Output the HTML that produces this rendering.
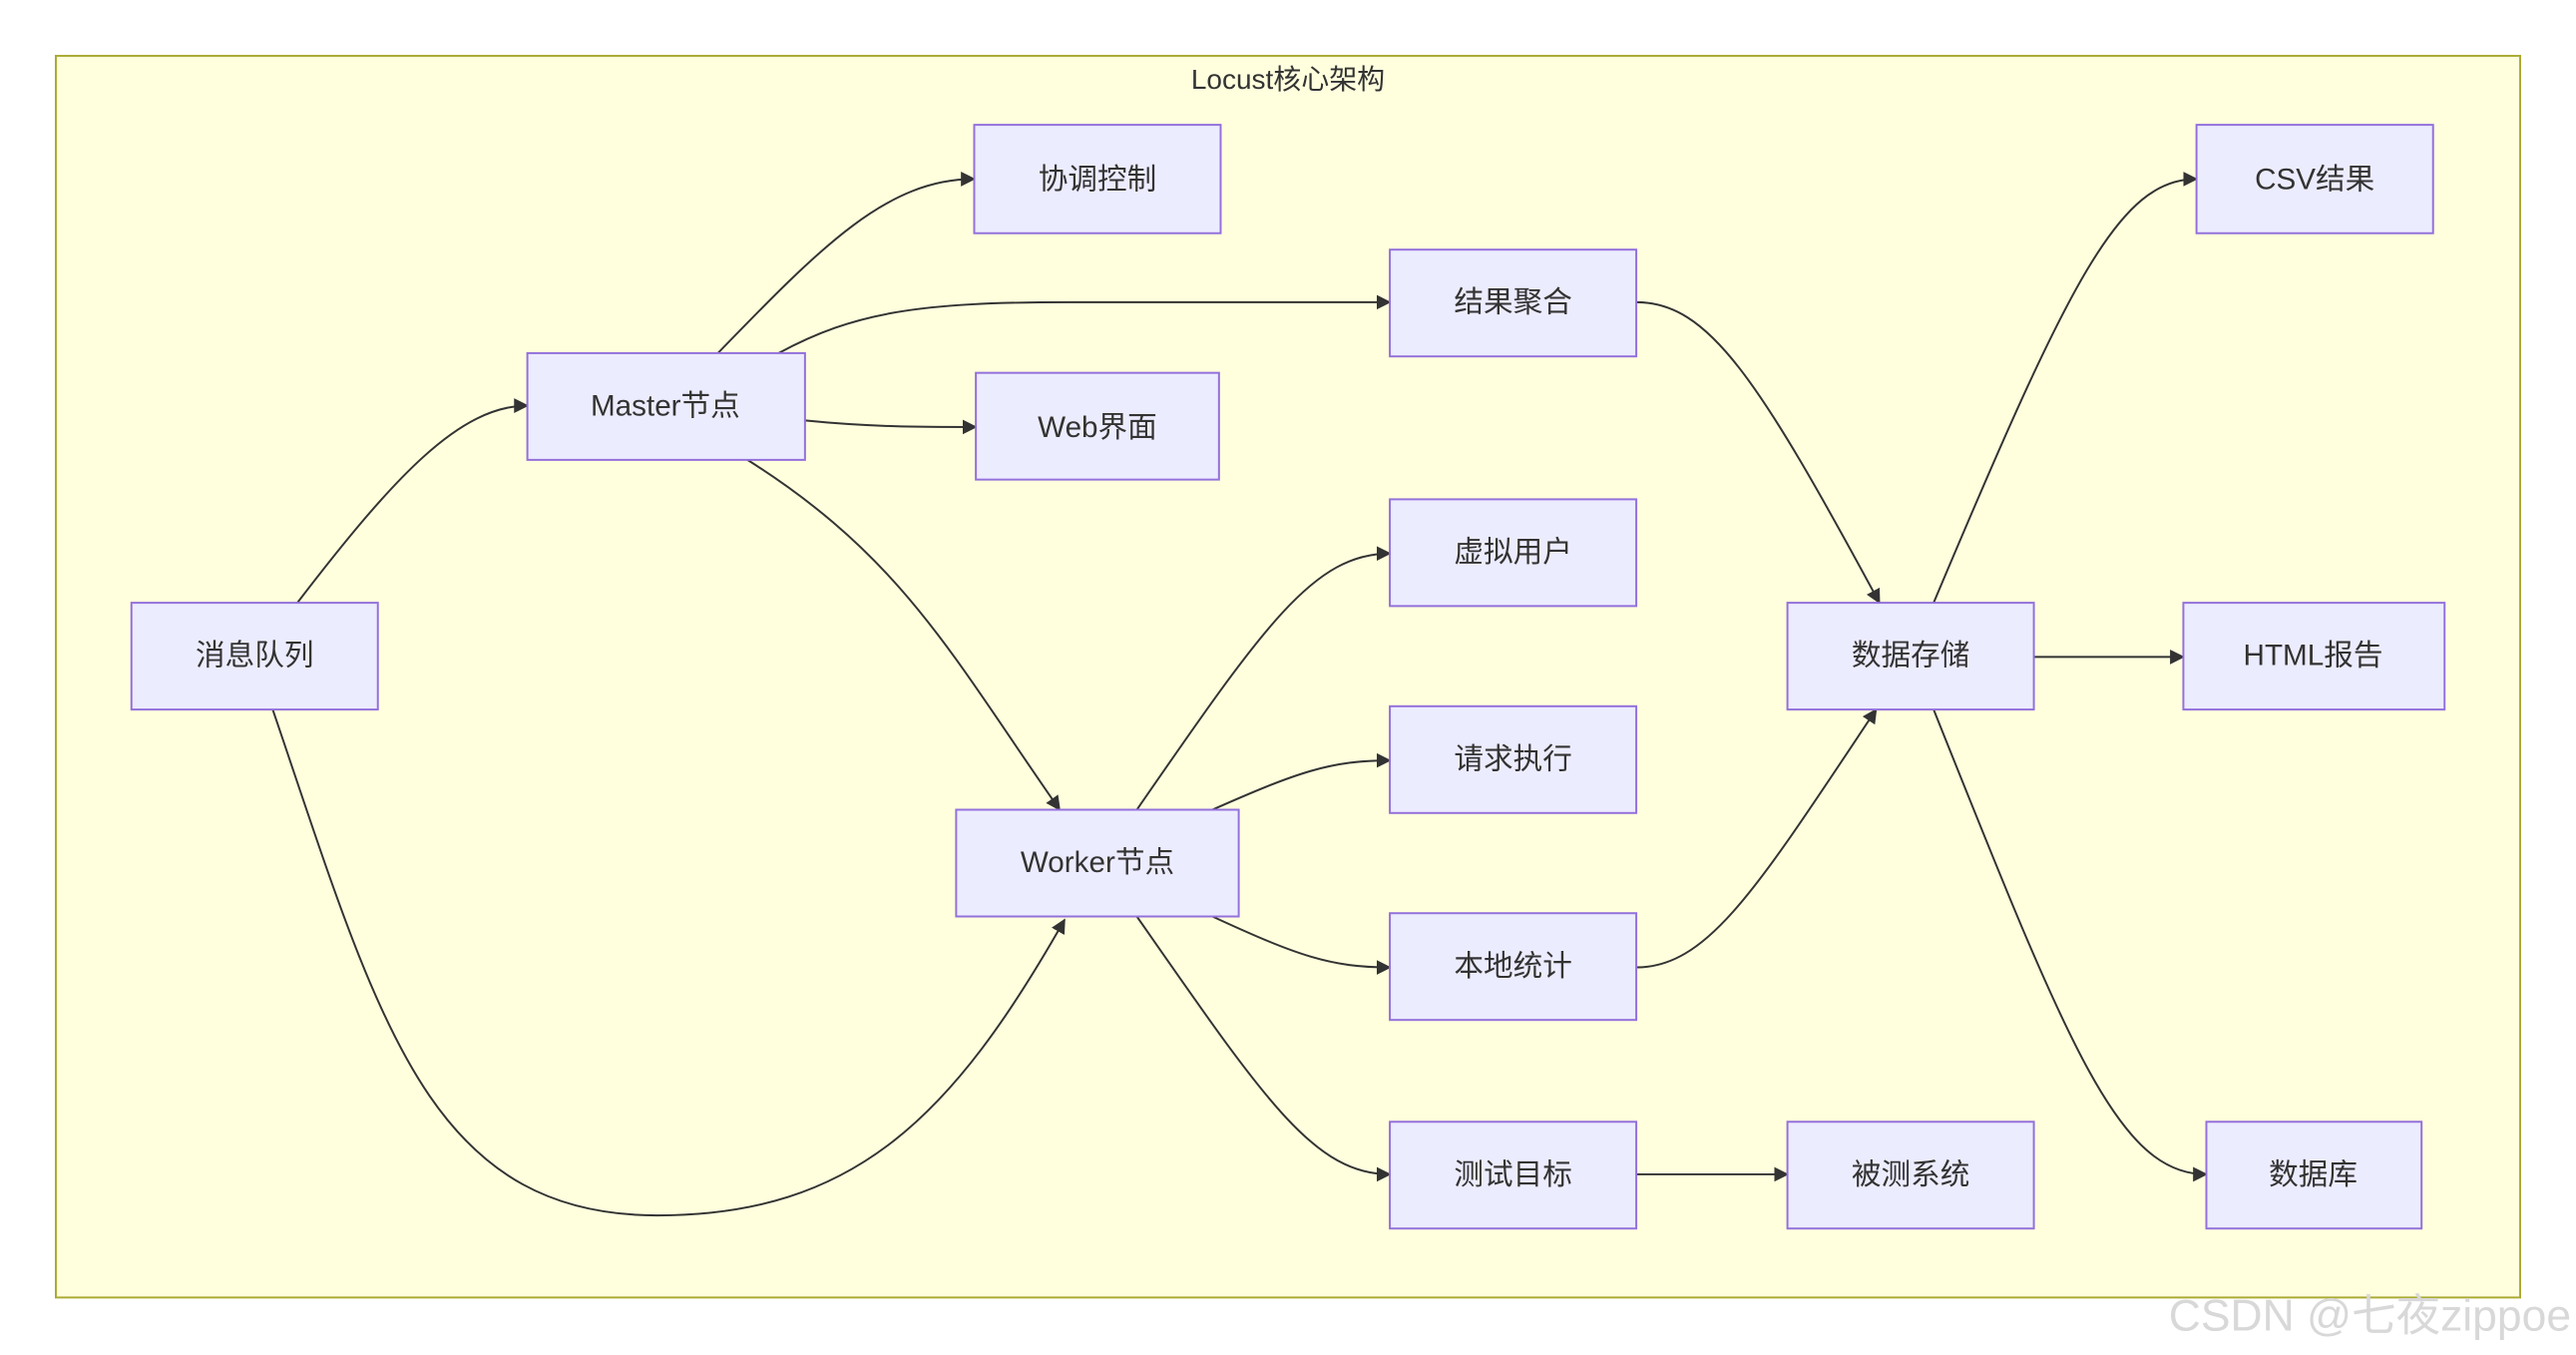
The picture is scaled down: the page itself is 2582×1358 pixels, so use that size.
<!DOCTYPE html>
<html><head><meta charset="utf-8"><style>
html,body{margin:0;padding:0;background:#fff;}
svg{display:block;}
text{font-family:"Liberation Sans","Noto Sans CJK SC",sans-serif;fill:#333;}
</style></head><body>
<svg width="2582" height="1358" viewBox="0 0 1568 825" preserveAspectRatio="none" xmlns="http://www.w3.org/2000/svg">
<defs><marker id="a" viewBox="0 0 10 10" refX="9" refY="5" markerWidth="9" markerHeight="9" markerUnits="userSpaceOnUse" orient="auto"><path d="M0,0 L10,5 L0,10 z" fill="#333"/></marker></defs>
<rect x="34" y="34" width="1500" height="756" fill="#FFFFDE" stroke="#AAAA33" stroke-width="1.2"/>
<text x="784" y="54" font-size="17" text-anchor="middle">Locust核心架构</text>
<g fill="none" stroke="#333" stroke-width="1.2" marker-end="url(#a)">
<path d="M181,367 C240,290 280,247 321,247"/>
<path d="M166,432 C230,620 260,740 400,740 C520,740 580,680 648,560"/>
<path d="M437,215 C500,150 540,109 593,109"/>
<path d="M474,215 C520,190 560,184 650,184 L846,184"/>
<path d="M490,256 C530,260 560,260 594,260"/>
<path d="M455,280 C550,340 580,400 645,493"/>
<path d="M692,493 C770,380 800,337 846,337"/>
<path d="M738,493 C790,470 810,463 846,463"/>
<path d="M738,558 C790,582 810,589 846,589"/>
<path d="M692,558 C770,670 800,715 846,715"/>
<path d="M996,184 C1040,184 1070,230 1144,367"/>
<path d="M996,589 C1040,589 1070,540 1142,432"/>
<path d="M1177,367 C1260,170 1290,109 1337,109"/>
<path d="M1238,400 L1329,400"/>
<path d="M1177,432 C1260,640 1290,715 1343,715"/>
<path d="M996,715 L1088,715"/>
</g>
<g fill="#ECECFF" stroke="#9370DB" stroke-width="1.2">
<rect x="593" y="76" width="150" height="66"/>
<rect x="846" y="152" width="150" height="65"/>
<rect x="321" y="215" width="169" height="65"/>
<rect x="594" y="227" width="148" height="65"/>
<rect x="846" y="304" width="150" height="65"/>
<rect x="80" y="367" width="150" height="65"/>
<rect x="1088" y="367" width="150" height="65"/>
<rect x="846" y="430" width="150" height="65"/>
<rect x="582" y="493" width="172" height="65"/>
<rect x="846" y="556" width="150" height="65"/>
<rect x="846" y="683" width="150" height="65"/>
<rect x="1088" y="683" width="150" height="65"/>
<rect x="1337" y="76" width="144" height="66"/>
<rect x="1329" y="367" width="159" height="65"/>
<rect x="1343" y="683" width="131" height="65"/>
</g>
<g font-size="18" text-anchor="middle">
<text x="668" y="115">协调控制</text>
<text x="921" y="190">结果聚合</text>
<text x="405" y="253">Master节点</text>
<text x="668" y="266">Web界面</text>
<text x="921" y="342">虚拟用户</text>
<text x="155" y="405">消息队列</text>
<text x="1163" y="405">数据存储</text>
<text x="921" y="468">请求执行</text>
<text x="668" y="531">Worker节点</text>
<text x="921" y="594">本地统计</text>
<text x="921" y="721">测试目标</text>
<text x="1163" y="721">被测系统</text>
<text x="1409" y="115">CSV结果</text>
<text x="1408" y="405">HTML报告</text>
<text x="1408" y="721">数据库</text>
</g>
<text x="1565" y="810" font-size="27" text-anchor="end" style="fill:#d8d8d8">CSDN @七夜zippoe</text>
</svg>
</body></html>
